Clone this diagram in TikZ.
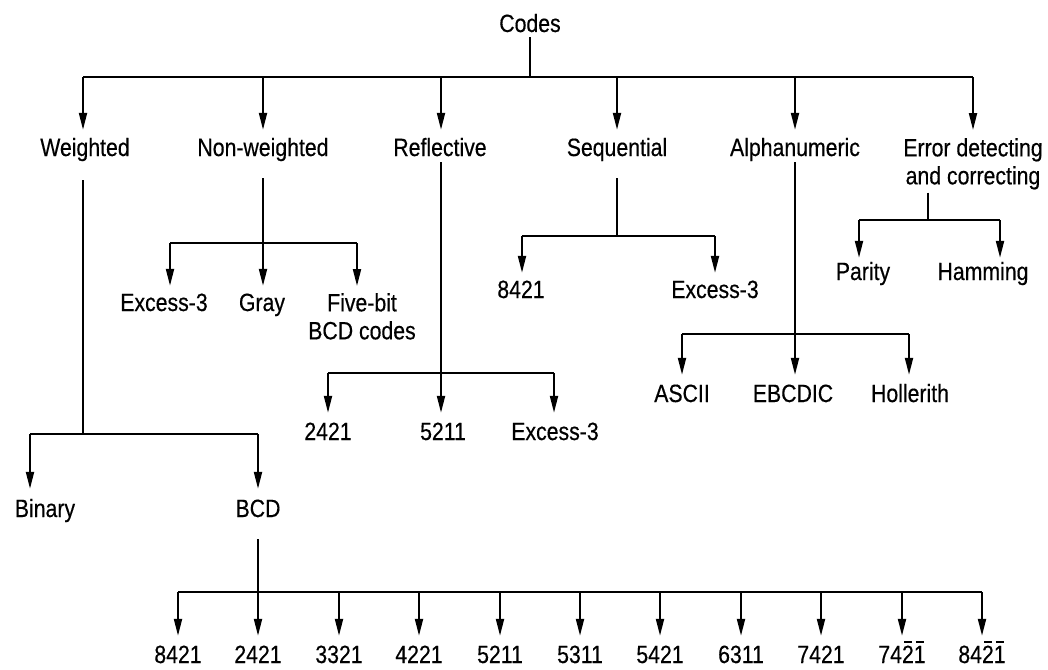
\documentclass[tikz,border=0pt]{standalone}
\usepackage{fontspec}
\setmainfont{Liberation Sans}[FakeStretch=0.85,FakeBold=0.4]
\usetikzlibrary{arrows.meta,calc}
\newcommand\ovb[1]{\rlap{\hspace{2pt}\rule[20pt]{7.8pt}{1.6pt}}#1}
\begin{document}
\begin{tikzpicture}[x=1pt,y=-1pt,
  conn/.style={line width=2pt},
  bar/.style={line width=2.6pt},
  arr/.style={line width=2pt,-{Triangle[length=17pt,width=8pt]}},
  lab/.style={inner sep=0pt,anchor=base,text height=18pt,text depth=5pt,font=\fontsize{25}{28}\selectfont},
  lab2/.style={inner sep=0pt,anchor=north,align=center,font=\fontsize{25}{28}\selectfont}]
\useasboundingbox (0,0) rectangle (1048,669);

% root
\node[lab] (codes) at (530,32) {Codes};
\coordinate (c0) at (530,77);
\draw[conn] (codes.south) -- (c0);

% level 1
\node[lab] (w) at (85,156) {Weighted};
\node[lab] (nw) at (263,156) {Non-weighted};
\node[lab] (r) at (440,156) {Reflective};
\node[lab] (s) at (617,156) {Sequential};
\node[lab] (a) at (795,156) {Alphanumeric};
\node[lab2] (e) at (973,138) {Error detecting\\and correcting};

\coordinate (j1) at (83,77);
\coordinate (j2) at (263,77);
\coordinate (j3) at (441,77);
\coordinate (j4) at (617,77);
\coordinate (j5) at (795,77);
\coordinate (j6) at (973,77);
\draw[bar] (j1) -- (j6);
\draw[arr] (j1) -- ($(j1 |- w.north)+(0,-8)$);
\draw[arr] (j2) -- ($(j2 |- nw.north)+(0,-8)$);
\draw[arr] (j3) -- ($(j3 |- r.north)+(0,-8)$);
\draw[arr] (j4) -- ($(j4 |- s.north)+(0,-8)$);
\draw[arr] (j5) -- ($(j5 |- a.north)+(0,-8)$);
\draw[arr] (j6) -- ($(j6 |- e.north)+(0,-8)$);

% Weighted
\coordinate (wj) at (83,434);
\coordinate (wl) at (30,434);
\coordinate (wr) at (258,434);
\draw[conn] ($(wj |- w.south)+(0,19)$) -- (wj);
\draw[bar] (wl) -- (wr);
\node[lab] (bin) at (45,517) {Binary};
\node[lab] (bcd) at (258,517) {BCD};
\draw[arr] (wl) -- ($(wl |- bin.north)+(0,-10)$);
\draw[arr] (wr) -- ($(wr |- bcd.north)+(0,-10)$);

% BCD
\coordinate (bj) at (258,592);
\draw[conn] ($(bcd.south)+(0,17)$) -- (bj);
\foreach \x/\t [count=\i] in {178/8421,258/2421,339/3321,419/4221,500/5211,580/5311,660/5421,741/6311,821/7421,902/{74\ovb{2}\ovb{1}},982/{84\ovb{2}\ovb{1}}}{
  \node[lab] (d\i) at (\x,663) {\t};
  \coordinate (dj\i) at (\x,592);
  \draw[arr] (dj\i) -- ($(d\i.north)+(0,-9)$);
}
\draw[bar] (dj1) -- (dj11);

% Non-weighted
\coordinate (nj) at (263,243);
\coordinate (nl) at (170,243);
\coordinate (nr) at (357,243);
\draw[conn] ($(nw.south)+(0,17)$) -- (nj);
\draw[bar] (nl) -- (nr);
\node[lab] (ex1) at (164,311) {Excess-3};
\node[lab] (gray) at (262,311) {Gray};
\node[lab2] (fb) at (362,293) {Five-bit\\BCD codes};
\draw[arr] (nl) -- ($(nl |- ex1.north)+(0,-7)$);
\draw[arr] (nj) -- ($(nj |- gray.north)+(0,-7)$);
\draw[arr] (nr) -- ($(nr |- fb.north)+(0,-7)$);

% Reflective
\coordinate (rj) at (441,373);
\coordinate (rl) at (328,373);
\coordinate (rr) at (554,373);
\draw[conn] ($(rj |- r.south)+(0,1)$) -- (rj);
\draw[bar] (rl) -- (rr);
\node[lab] (r1) at (328,440) {2421};
\node[lab] (r2) at (443,440) {5211};
\node[lab] (r3) at (555,440) {Excess-3};
\draw[arr] (rl) -- ($(rl |- r1.north)+(0,-9)$);
\draw[arr] (rj) -- ($(rj |- r2.north)+(0,-9)$);
\draw[arr] (rr) -- ($(rr |- r3.north)+(0,-9)$);

% Sequential
\coordinate (sj) at (617,236);
\coordinate (sl) at (522,236);
\coordinate (sr) at (715,236);
\draw[conn] ($(sj |- s.south)+(0,17)$) -- (sj);
\draw[bar] (sl) -- (sr);
\node[lab] (s1) at (521,298) {8421};
\node[lab] (s2) at (715,298) {Excess-3};
\draw[arr] (sl) -- ($(sl |- s1.north)+(0,-7)$);
\draw[arr] (sr) -- ($(sr |- s2.north)+(0,-7)$);

% Alphanumeric
\coordinate (aj) at (795,334);
\coordinate (al) at (682,334);
\coordinate (ar) at (909,334);
\draw[conn] ($(aj |- a.south)+(0,1)$) -- (aj);
\draw[bar] (al) -- (ar);
\node[lab] (a1) at (682,402) {ASCII};
\node[lab] (a2) at (793,402) {EBCDIC};
\node[lab] (a3) at (910,402) {Hollerith};
\draw[arr] (al) -- ($(al |- a1.north)+(0,-9)$);
\draw[arr] (aj) -- ($(aj |- a2.north)+(0,-9)$);
\draw[arr] (ar) -- ($(ar |- a3.north)+(0,-9)$);

% Error detecting and correcting
\coordinate (ej) at (928,220);
\coordinate (el) at (859,220);
\coordinate (er) at (1000,220);
\draw[conn] ($(ej |- e.south)+(0,3)$) -- (ej);
\draw[bar] (el) -- (er);
\node[lab] (p) at (863,280) {Parity};
\node[lab] (h) at (983,280) {Hamming};
\draw[arr] (el) -- ($(el |- p.north)+(0,-4)$);
\draw[arr] (er) -- ($(er |- h.north)+(0,-4)$);
\end{tikzpicture}
\end{document}
